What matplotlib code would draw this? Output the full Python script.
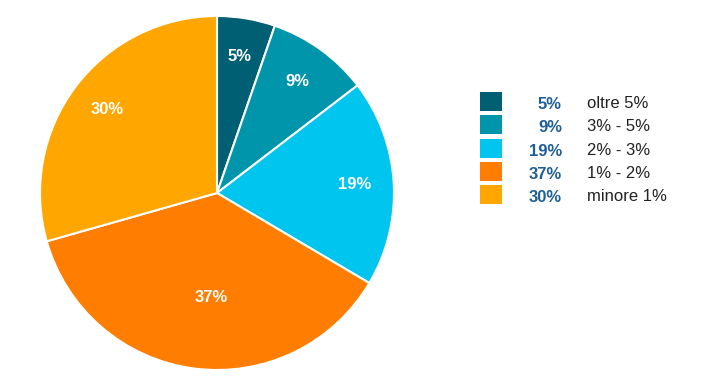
import matplotlib.pyplot as plt
from matplotlib.patches import Rectangle

labels = ["oltre 5%", "3% - 5%", "2% - 3%", "1% - 2%", "minore 1%"]
values = [5.3, 9.3, 18.9, 37.1, 29.4]      # wedge sizes
pct_labels = ["5%", "9%", "19%", "37%", "30%"]  # as printed on the chart
colors = ["#005f73", "#0095ab", "#00c5ef", "#ff7d00", "#ffa600"]

fig = plt.figure(figsize=(7.17, 3.83), dpi=100)
plt.rcParams['font.family'] = ['Liberation Sans', 'DejaVu Sans']

ax = fig.add_axes([40 / 717, 13 / 383, 354 / 717, 354 / 383])
wedges, texts, autotexts = ax.pie(
    values, colors=colors, startangle=90, counterclock=False,
    autopct="%1.0f%%", pctdistance=0.78,
    wedgeprops=dict(edgecolor="white", linewidth=1.5),
    textprops=dict(color="white", fontsize=12, fontweight="bold"))
for t, s in zip(autotexts, pct_labels):
    t.set_text(s)
# 37% label sits closer to the centre
x, y = autotexts[3].get_position()
autotexts[3].set_position((x * 0.35, y * 0.76))
ax.set_xlim(-1, 1)
ax.set_ylim(-1, 1)
ax.set_aspect("equal")

# legend
W, H = 717, 383
for i, (lab, s, c) in enumerate(zip(labels, pct_labels, colors)):
    yc = 101.5 + i * 23.3
    fig.patches.append(Rectangle((480 / W, (H - yc - 9.5) / H), 22 / W, 19 / H,
                                 facecolor=c, transform=fig.transFigure))
    fig.text(562 / W, (H - yc - 3) / H, s, ha="right", va="center",
             fontsize=12, fontweight="bold", color="#1d5f96")
    fig.text(587 / W, (H - yc - 2) / H, lab, ha="left", va="center",
             fontsize=12, color="#222222")

fig.savefig("out.png", dpi=100)
